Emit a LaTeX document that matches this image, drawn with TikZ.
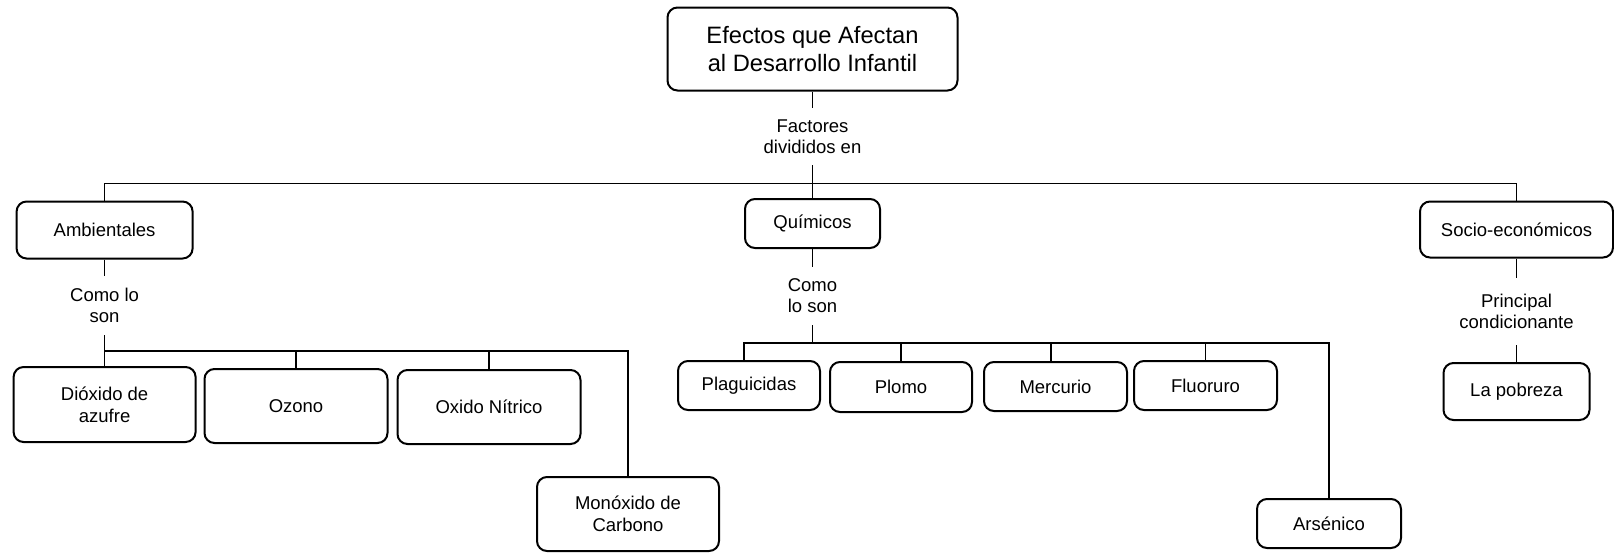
\documentclass[tikz,border=0pt]{standalone}
\usepackage{fontspec}
\setmainfont{Liberation Sans}
\begin{document}
\begin{tikzpicture}[x=1pt,y=-1pt,
  box/.style={draw, line width=2pt, rounded corners=10pt, align=center, inner sep=0pt, font=\fontsize{18.5}{22}\selectfont},
  lab/.style={align=center, inner sep=0pt, font=\fontsize{18.5}{21}\selectfont},
  con/.style={line width=1.1pt}]
\useasboundingbox (0,0) rectangle (1614,552);
% boxes
\node[box, minimum width=290pt, minimum height=83pt, font=\fontsize{23.7}{27.3}\selectfont] (top) at (812.5,49) {Efectos que Afectan\\al Desarrollo Infantil};
\node[box, minimum width=176pt, minimum height=57pt] (amb) at (104.6,230) {Ambientales};
\node[box, minimum width=135pt, minimum height=49pt] (quim) at (812.5,223.5) {Químicos};
\node[box, minimum width=193pt, minimum height=56pt] (soc) at (1516.5,229.5) {Socio-económicos};
\node[box, minimum width=182pt, minimum height=75pt] (diox) at (104.6,404.5) {Dióxido de\\azufre};
\node[box, minimum width=183pt, minimum height=74pt] (ozono) at (296,406) {Ozono};
\node[box, minimum width=183pt, minimum height=74pt] (oxido) at (489,407) {Oxido Nítrico};
\node[box, minimum width=182pt, minimum height=74pt] (mono) at (628,514) {Monóxido de\\Carbono};
\node[box, minimum width=142pt, minimum height=49pt] (plag) at (749,385.5) {Plaguicidas};
\node[box, minimum width=142pt, minimum height=50pt] (plomo) at (901,387) {Plomo};
\node[box, minimum width=143pt, minimum height=49pt] (merc) at (1055.5,386.5) {Mercurio};
\node[box, minimum width=143pt, minimum height=49pt] (fluor) at (1205.5,385.5) {Fluoruro};
\node[box, minimum width=144pt, minimum height=49pt] (ars) at (1329,523.5) {Arsénico};
\node[box, minimum width=146pt, minimum height=57pt] (pob) at (1516.5,391.5) {La pobreza};
% labels
\node[lab, minimum height=57pt] (l1) at (812.5,136.5) {Factores\\divididos en};
\node[lab, minimum height=59pt] (l2) at (104.6,305.5) {Como lo\\son};
\node[lab, minimum height=58pt] (l3) at (812.5,296) {Como\\lo son};
\node[lab, minimum height=67pt] (l4) at (1516.5,311.5) {Principal\\condicionante};
% level 1
\coordinate (b1) at (812.5,183.3);
\draw[con] (top.south) -- (l1.north);
\draw[con] (l1.south) -- (quim.north);
\draw[con] (amb.north) -- (amb.north |- b1) -- (soc.north |- b1) -- (soc.north);
% ambientales
\coordinate (b2) at (104.6,351);
\draw[con] (amb.south) -- (l2.north);
\draw[con] (l2.south) -- (diox.north);
\draw[con] (b2) -| (mono.north);
\draw[con] (ozono.north) -- (ozono.north |- b2);
\draw[con] (oxido.north) -- (oxido.north |- b2);
% quimicos
\coordinate (b3) at (812.5,343);
\coordinate (b3L) at (744,343);
\coordinate (b3M) at (1051,343);
\draw[con] (quim.south) -- (l3.north);
\draw[con] (l3.south) -- (b3);
\draw[con] (b3L |- plag.north) -- (b3L) -| (ars.north);
\draw[con] (plomo.north) -- (plomo.north |- b3);
\draw[con] (b3M) -- (b3M |- merc.north);
\draw[con] (fluor.north) -- (fluor.north |- b3);
% socio
\draw[con] (soc.south) -- (l4.north);
\draw[con] (l4.south) -- (pob.north);
\end{tikzpicture}
\end{document}
